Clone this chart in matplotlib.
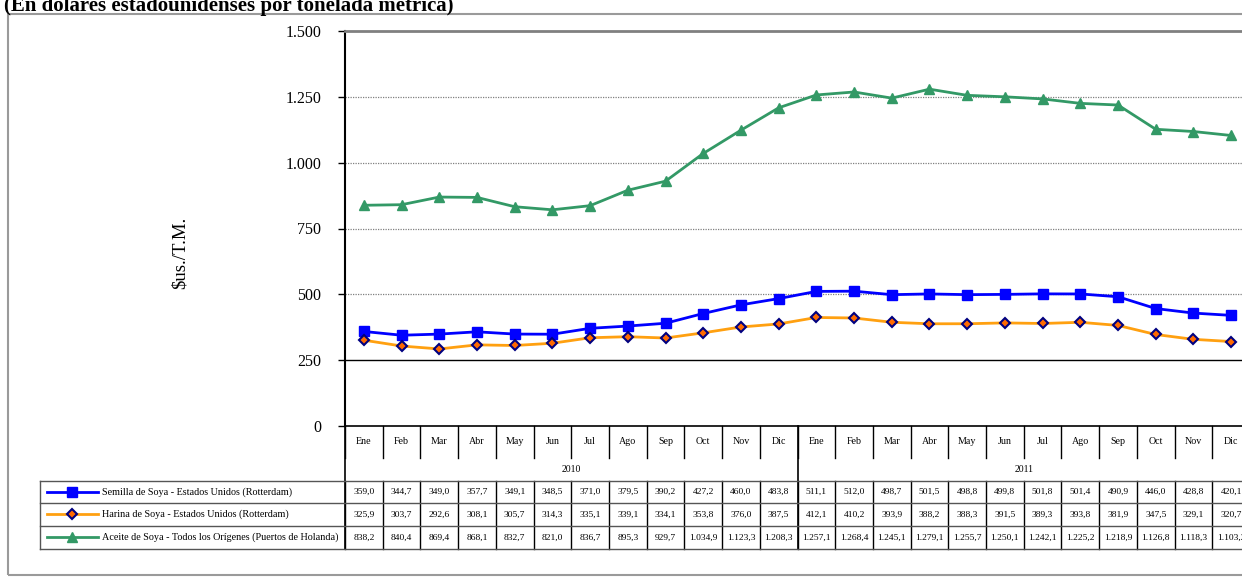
import numpy as np
import matplotlib.pyplot as plt
import matplotlib.transforms as mtransforms
from matplotlib.lines import Line2D
from matplotlib.patches import Rectangle

plt.rcParams['font.family'] = ['Liberation Serif', 'DejaVu Serif']

meses = ["Ene", "Feb", "Mar", "Abr", "May", "Jun", "Jul", "Ago", "Sep", "Oct", "Nov", "Dic"]
anios = ["2010", "2011"]
semilla = [359.0, 344.7, 349.0, 357.7, 349.1, 348.5, 371.0, 379.5, 390.2, 427.2, 460.0, 483.8,
           511.1, 512.0, 498.7, 501.5, 498.8, 499.8, 501.8, 501.4, 490.9, 446.0, 428.8, 420.1]
harina = [325.9, 303.7, 292.6, 308.1, 305.7, 314.3, 335.1, 339.1, 334.1, 353.8, 376.0, 387.5,
          412.1, 410.2, 393.9, 388.2, 388.3, 391.5, 389.3, 393.8, 381.9, 347.5, 329.1, 320.7]
aceite = [838.2, 840.4, 869.4, 868.1, 832.7, 821.0, 836.7, 895.3, 929.7, 1034.9, 1123.3, 1208.3,
          1257.1, 1268.4, 1245.1, 1279.1, 1255.7, 1250.1, 1242.1, 1225.2, 1218.9, 1126.8, 1118.3, 1103.2]
nombres = ["Semilla de Soya - Estados Unidos (Rotterdam)",
           "Harina de Soya - Estados Unidos (Rotterdam)",
           "Aceite de Soya - Todos los Orígenes (Puertos de Holanda)"]
yticks = [0, 250, 500, 750, 1000, 1250, 1500]

estilos = [dict(color="#0000FF", marker="s", markersize=6.5, markerfacecolor="#0000FF", markeredgecolor="#0000FF"),
           dict(color="#FFA010", marker="D", markersize=5, markerfacecolor="#FF6A00", markeredgecolor="#000080",
                markeredgewidth=1.5),
           dict(color="#339966", marker="^", markersize=7.5, markerfacecolor="#339966", markeredgecolor="#339966")]


def fmt(v, dec=1):
    s = f"{v:,.{dec}f}"
    return s.replace(",", "X").replace(".", ",").replace("X", ".")


W, H = 1242, 581
fig = plt.figure(figsize=(W / 100, H / 100), dpi=100)
ax = fig.add_axes([345 / W, 1 - 426 / H, 905 / W, 395 / H])

# marco exterior
fig.patches.append(Rectangle((8 / W, 6 / H), 1.2, 1 - 20 / H, transform=fig.transFigure,
                             fill=False, edgecolor="#9a9a9a", linewidth=1.5))
fig.text(4 / W, 1 - 6 / H, "(En dólares estadounidenses por tonelada métrica)", fontsize=15,
         fontweight="bold", ha="left", va="center")

x = np.arange(len(semilla))
series = [semilla, harina, aceite]
for serie, st in zip(series, estilos):
    ax.plot(x, serie, linewidth=2, zorder=3, **st)

ax.set_xlim(-0.5, 23.5)
ax.set_ylim(0, 1500)
ax.set_yticks(yticks)
ax.set_yticklabels([fmt(t, 0) for t in yticks], fontsize=11.5)
ax.tick_params(axis="y", direction="out", length=5, width=1, pad=12)
ax.set_xticks([])
for t in yticks[2:-1]:
    ax.axhline(t, color="#808080", linestyle=(0, (1, 1)), linewidth=0.9, zorder=1)
ax.axhline(250, color="black", linewidth=1, zorder=1)
ax.spines["left"].set_linewidth(1.5)
ax.spines["bottom"].set_linewidth(1.2)
ax.spines["top"].set_color("#808080")
ax.spines["top"].set_linewidth(2)
ax.spines["right"].set_visible(False)
fig.text(180 / W, 1 - 253 / H, "$us./T.M.", rotation=90, fontsize=13.5, ha="center", va="center")

# tabla de datos
bt = mtransforms.blended_transform_factory(ax.transData, ax.transAxes)
fila_mes = -0.081
filas = [-0.139, -0.195, -0.253, -0.311]
for i, m in enumerate(meses * 2):
    ax.text(i, -0.0405, m, transform=bt, fontsize=7.2, ha="center", va="center")
    ax.plot([i - 0.5, i - 0.5], [0, fila_mes], transform=bt, color="black", lw=1, clip_on=False)
    ax.plot([i - 0.5, i - 0.5], [filas[0], filas[-1]], transform=bt, color="black", lw=1, clip_on=False)
for k, a in enumerate(anios):
    ax.text(k * 12 + 5.5, -0.111, a, transform=bt, fontsize=7, ha="center", va="center")
    ax.plot([k * 12 - 0.5] * 2, [0, filas[-1]], transform=bt, color="black", lw=1.2, clip_on=False)

x0 = (40 - 345) / 905
for y in filas:
    ax.plot([x0, 1.2], [y, y], transform=ax.transAxes, color="#555555", lw=1, clip_on=False)
ax.plot([x0, x0], [filas[0], filas[-1]], transform=ax.transAxes, color="#555555", lw=1, clip_on=False)

for r, (serie, nombre, st) in enumerate(zip(series, nombres, estilos)):
    yc = (filas[r] + filas[r + 1]) / 2
    for i, v in enumerate(serie):
        ax.text(i, yc, fmt(v), transform=bt, fontsize=6.8, ha="center", va="center")
    ax.add_line(Line2D([(47 - 345) / 905, (98 - 345) / 905], [yc, yc], transform=ax.transAxes,
                       linewidth=2, clip_on=False, color=st["color"]))
    mk = dict(st)
    mk.pop("color")
    ax.add_line(Line2D([(72 - 345) / 905], [yc], transform=ax.transAxes, linestyle="none",
                       clip_on=False, **mk))
    ax.text((102 - 345) / 905, yc, nombre, transform=ax.transAxes, fontsize=7.3, ha="left", va="center")

fig.savefig("out.png", dpi=100)
